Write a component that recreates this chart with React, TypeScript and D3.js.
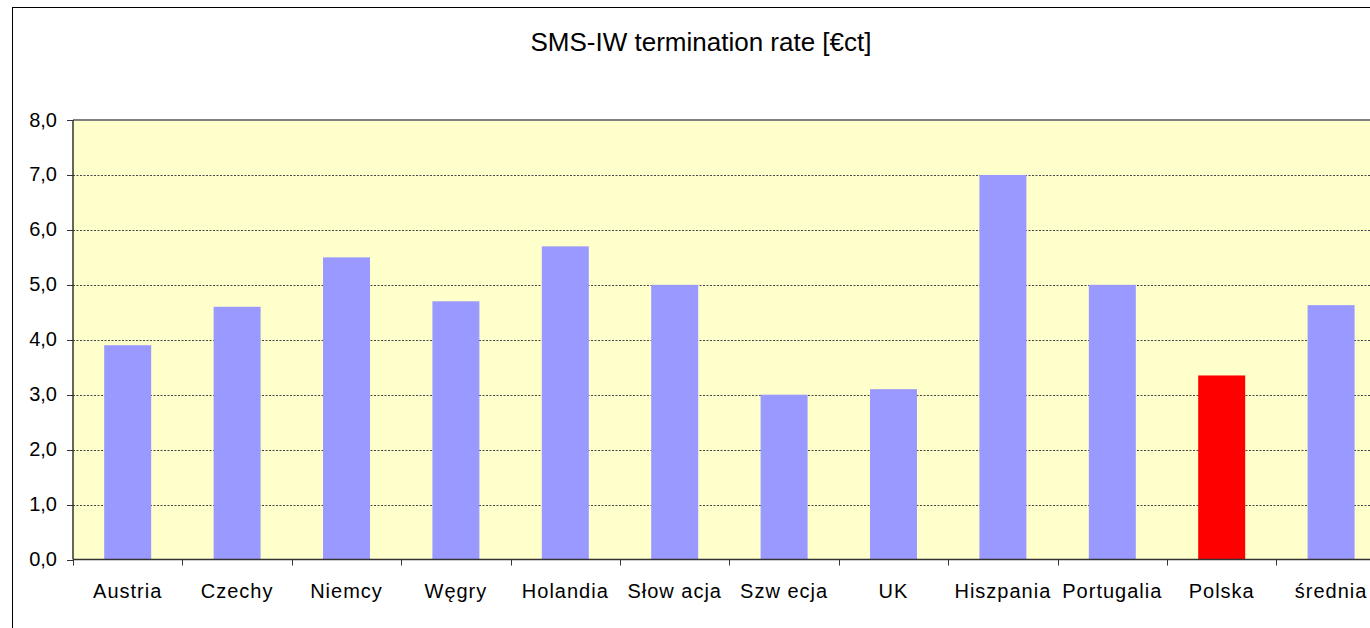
import React, { useEffect, useRef } from 'react';
import * as d3 from 'd3';

const categories = ['Austria', 'Czechy', 'Niemcy', 'Węgry', 'Holandia', 'Słow acja', 'Szw ecja', 'UK', 'Hiszpania', 'Portugalia', 'Polska', 'średnia'];
const values = [3.9, 4.6, 5.5, 4.7, 5.7, 5.0, 3.0, 3.1, 7.0, 5.0, 3.35, 4.63];
const highlighted = ['Polska'];
const yTicks = [0, 1, 2, 3, 4, 5, 6, 7, 8];

const App = () => {
  const ref = useRef<SVGSVGElement | null>(null);

  useEffect(() => {
    if (!ref.current) return;
    const svg = d3.select(ref.current);
    svg.selectAll('*').remove();

    const W = 1370;
    const H = 628;
    const left = 73;
    const top = 120;
    const bottom = 559.5;
    const step = 109.4;
    const font = '"Liberation Sans", Arial, sans-serif';

    // outer chart frame (cropped on the right and bottom)
    svg.append('rect')
      .attr('x', 12.5).attr('y', 7.5)
      .attr('width', W).attr('height', H)
      .attr('fill', '#fff')
      .attr('stroke', '#000')
      .attr('stroke-width', 1);

    const x = d3.scaleBand<string>()
      .domain(categories)
      .range([left, left + step * categories.length])
      .padding(0);

    const y = d3.scaleLinear().domain([0, 8]).range([bottom, top]);

    // plot area
    svg.append('rect')
      .attr('x', left).attr('y', top)
      .attr('width', W - left + 20).attr('height', bottom - top)
      .attr('fill', '#FFFFCC');

    // gridlines
    svg.append('g')
      .selectAll('line')
      .data(yTicks.filter(d => d > 0 && d < 8))
      .enter()
      .append('line')
      .attr('x1', left).attr('x2', W)
      .attr('y1', d => Math.round(y(d)) + 0.5)
      .attr('y2', d => Math.round(y(d)) + 0.5)
      .attr('stroke', '#444')
      .attr('stroke-width', 1)
      .attr('stroke-dasharray', '2,1.5');

    // top border of plot area
    svg.append('line')
      .attr('x1', left).attr('x2', W)
      .attr('y1', top).attr('y2', top)
      .attr('stroke', '#808080')
      .attr('stroke-width', 2);

    // bars
    const barW = 47;
    svg.append('g')
      .selectAll('rect')
      .data(categories)
      .enter()
      .append('rect')
      .attr('x', d => (x(d) as number) + x.bandwidth() / 2 - barW / 2)
      .attr('y', (d, i) => y(values[i]))
      .attr('width', barW)
      .attr('height', (d, i) => bottom - y(values[i]))
      .attr('fill', d => (highlighted.includes(d) ? '#FF0000' : '#9999FF'));

    // y axis
    const yAxis = svg.append('g');
    yAxis.append('line')
      .attr('x1', left).attr('x2', left)
      .attr('y1', top).attr('y2', bottom)
      .attr('stroke', '#333').attr('stroke-width', 1.5);
    yAxis.selectAll('line.tick')
      .data(yTicks)
      .enter()
      .append('line')
      .attr('class', 'tick')
      .attr('x1', left - 6).attr('x2', left)
      .attr('y1', d => Math.round(y(d)) + 0.5)
      .attr('y2', d => Math.round(y(d)) + 0.5)
      .attr('stroke', '#333');
    yAxis.selectAll('text')
      .data(yTicks)
      .enter()
      .append('text')
      .attr('x', 57)
      .attr('y', d => y(d) + 6.5)
      .attr('text-anchor', 'end')
      .style('font-family', font)
      .style('font-size', '20px')
      .attr('fill', '#000')
      .text(d => d3.format('.1f')(d).replace('.', ','));

    // x axis
    const xAxis = svg.append('g');
    xAxis.append('line')
      .attr('x1', left).attr('x2', W)
      .attr('y1', bottom).attr('y2', bottom)
      .attr('stroke', '#333').attr('stroke-width', 1.5);
    xAxis.selectAll('line.tick')
      .data(categories)
      .enter()
      .append('line')
      .attr('class', 'tick')
      .attr('x1', d => Math.round(x(d) as number) + 0.5)
      .attr('x2', d => Math.round(x(d) as number) + 0.5)
      .attr('y1', bottom).attr('y2', bottom + 6)
      .attr('stroke', '#333');
    xAxis.selectAll('text')
      .data(categories)
      .enter()
      .append('text')
      .attr('x', d => (x(d) as number) + x.bandwidth() / 2)
      .attr('y', 598)
      .attr('text-anchor', 'middle')
      .style('font-family', font)
      .style('font-size', '20px')
      .style('letter-spacing', '1px')
      .attr('fill', '#000')
      .text(d => d);

    // title
    svg.append('text')
      .attr('x', 701)
      .attr('y', 51)
      .attr('text-anchor', 'middle')
      .style('font-family', font)
      .style('font-size', '26px')
      .attr('fill', '#000')
      .text('SMS-IW termination rate [€ct]');
  }, []);

  return (
    <div style={{ position: 'absolute', left: 0, top: 0, width: 1370, height: 628, overflow: 'hidden', background: '#fff' }}>
      <svg ref={ref} width={1370} height={628} style={{ display: 'block' }} />
    </div>
  );
};

export default App;
